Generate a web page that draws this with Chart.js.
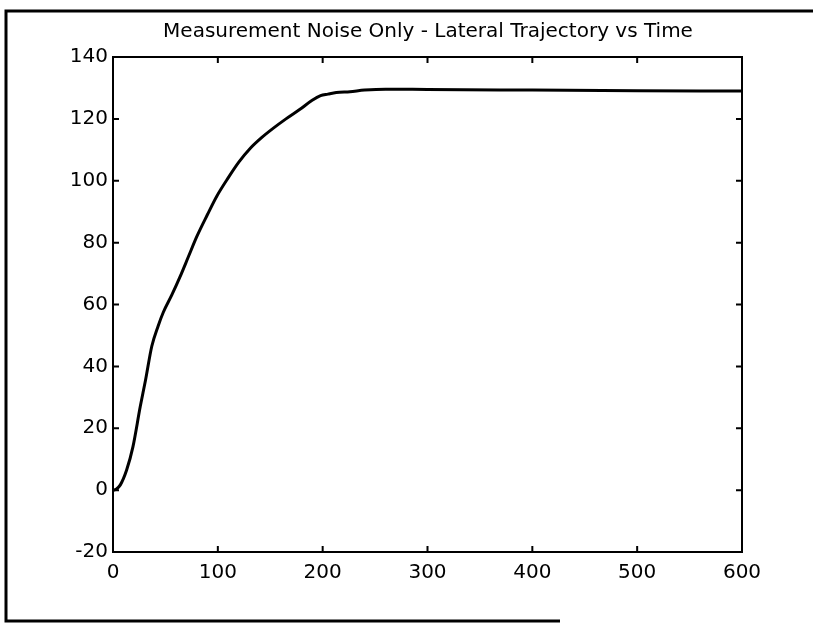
<!DOCTYPE html>
<html>
<head>
<meta charset="utf-8">
<script src="https://cdn.jsdelivr.net/npm/chart.js@4"></script>
<style>
  html, body { margin: 0; padding: 0; background: #fff; }
  #wrap { width: 813px; height: 625px; position: relative; }
</style>
</head>
<body>
<div id="wrap"><canvas id="c" width="813" height="625"></canvas></div>
<script>
// ---- data ----
const titleText = "Measurement Noise Only - Lateral Trajectory vs Time";
const timeValues = [0, 3, 7, 13, 19, 26, 31, 37, 43, 48, 56, 64, 72, 80, 90, 99, 110, 120, 131, 142, 153, 165, 178, 190, 198, 205, 213, 226, 240, 260, 300, 400, 500, 600];
const lateralValues = [0, 0.3, 1.7, 6.5, 14, 27, 35.5, 46.5, 53, 57.5, 63, 69, 75.5, 82, 89, 95, 101, 106, 110.5, 114, 117, 120, 123, 126, 127.5, 128, 128.5, 128.8, 129.3, 129.6, 129.5, 129.3, 129.1, 129];
const xTickValues = [0, 100, 200, 300, 400, 500, 600];
const yTickValues = [-20, 0, 20, 40, 60, 80, 100, 120, 140];

const points = timeValues.map((t, i) => ({ x: t, y: lateralValues[i] }));
const FONT = "'DejaVu Sans', 'Liberation Sans', Arial, sans-serif";

const framePlugin = {
  id: 'framePlugin',
  beforeDraw(chart) {
    const ctx = chart.ctx;
    ctx.save();
    ctx.fillStyle = '#fff';
    ctx.fillRect(0, 0, chart.width, chart.height);
    ctx.strokeStyle = '#000';
    ctx.lineWidth = 3;
    ctx.beginPath();
    ctx.moveTo(813, 11);
    ctx.lineTo(6, 11);
    ctx.lineTo(6, 621);
    ctx.lineTo(560, 621);
    ctx.stroke();
    ctx.restore();
  },
  afterDatasetsDraw(chart) {
    const ctx = chart.ctx;
    const a = chart.chartArea;
    const xs = chart.scales.x, ys = chart.scales.y;
    ctx.save();
    ctx.strokeStyle = '#000';
    ctx.lineWidth = 2;
    ctx.strokeRect(a.left, a.top, a.right - a.left, a.bottom - a.top);
    const tl = 6;
    ctx.beginPath();
    xTickValues.forEach(v => {
      const px = xs.getPixelForValue(v);
      ctx.moveTo(px, a.bottom); ctx.lineTo(px, a.bottom - tl);
      ctx.moveTo(px, a.top); ctx.lineTo(px, a.top + tl);
    });
    yTickValues.forEach(v => {
      const py = ys.getPixelForValue(v);
      ctx.moveTo(a.left, py); ctx.lineTo(a.left + tl, py);
      ctx.moveTo(a.right, py); ctx.lineTo(a.right - tl, py);
    });
    ctx.stroke();
    ctx.restore();
  }
};

new Chart(document.getElementById('c'), {
  type: 'scatter',
  data: {
    datasets: [{
      data: points,
      showLine: true,
      borderColor: '#000',
      borderWidth: 3,
      pointRadius: 0,
      cubicInterpolationMode: 'monotone',
      fill: false
    }]
  },
  options: {
    responsive: false,
    animation: false,
    devicePixelRatio: 1,
    layout: { padding: { left: 43, right: 0, top: 0, bottom: 0 } },
    plugins: {
      legend: { display: false },
      tooltip: { enabled: false },
      title: {
        display: true,
        text: titleText,
        color: '#000',
        font: { family: FONT, size: 20, weight: 'normal' },
        padding: { top: 20, bottom: 13 }
      }
    },
    scales: {
      x: {
        type: 'linear',
        min: 0, max: 600,
        afterBuildTicks(scale) { scale.ticks = xTickValues.map(v => ({ value: v })); },
        afterFit(scale) { scale.height = 73; },
        grid: { display: false, drawTicks: false },
        border: { display: false },
        ticks: { color: '#000', font: { family: FONT, size: 20 }, padding: 9, maxRotation: 0 }
      },
      y: {
        type: 'linear',
        min: -20, max: 140,
        afterBuildTicks(scale) { scale.ticks = yTickValues.map(v => ({ value: v })); },
        afterFit(scale) { scale.width = 70; },
        grid: { display: false, drawTicks: false },
        border: { display: false },
        ticks: { color: '#000', font: { family: FONT, size: 20 }, padding: 5 }
      },
      yRight: {
        type: 'linear',
        position: 'right',
        min: -20, max: 140,
        afterFit(scale) { scale.width = 71; },
        grid: { display: false, drawTicks: false },
        border: { display: false },
        ticks: { display: false }
      }
    }
  },
  plugins: [framePlugin]
});
</script>
</body>
</html>
